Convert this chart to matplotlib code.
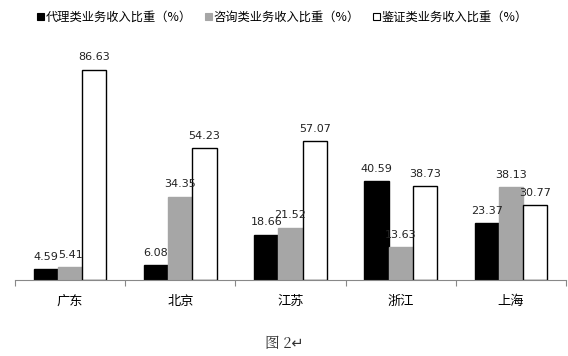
import numpy as np
import matplotlib
matplotlib.use('Agg')
import matplotlib.pyplot as plt
from matplotlib.patches import Patch

plt.rcParams['font.family'] = ['Noto Sans CJK SC', 'DejaVu Sans']

# data
regions = ['广东', '北京', '江苏', '浙江', '上海']
agency = [4.59, 6.08, 18.66, 40.59, 23.37]
consult = [5.41, 34.35, 21.52, 13.63, 38.13]
appraisal = [86.63, 54.23, 57.07, 38.73, 30.77]
series_names = ['代理类业务收入比重（%）', '咨询类业务收入比重（%）', '鉴证类业务收入比重（%）']

fig = plt.figure(figsize=(5.68, 3.56), dpi=100)
ax = fig.add_axes([15 / 568, 76 / 356, 551 / 568, 250 / 356])

x = np.arange(len(regions))
w = 0.22
styles = [dict(color='black', edgecolor='black'),
          dict(color='#a6a6a6', edgecolor='#a6a6a6'),
          dict(color='white', edgecolor='black')]
for i, (vals, st) in enumerate(zip([agency, consult, appraisal], styles)):
    pos = x + (i - 1) * w
    ax.bar(pos, vals, width=w, linewidth=1.0, **st)
    for p, v in zip(pos, vals):
        ax.text(p, v + 3, f'{v:.2f}', ha='center', va='bottom', fontsize=8,
                color='#222222', family='DejaVu Sans')

ax.set_xlim(-0.5, len(regions) - 0.5)
ax.set_ylim(0, 103)
ax.set_yticks([])
for s in ['top', 'right', 'left']:
    ax.spines[s].set_visible(False)
ax.spines['bottom'].set_color('#888888')
ax.set_xticks(np.arange(len(regions) + 1) - 0.5)
ax.set_xticklabels([])
ax.tick_params(axis='x', length=4, color='#888888', direction='out')
for xi, name in zip(x, regions):
    ax.text(xi, -6, name, ha='center', va='top', fontsize=9.5)

handles = [Patch(facecolor=st['color'], edgecolor=st['edgecolor'], linewidth=0.8)
           for st in styles]
fig.legend(handles, series_names, loc='upper left', bbox_to_anchor=(26 / 568, 1.0),
           ncol=3, frameon=False, fontsize=8.8, handlelength=0.55, handleheight=0.55,
           handletextpad=0.15, columnspacing=1.1)

fig.text(0.5, 12 / 356, '图 2↵', ha='center', va='center', fontsize=10.5,
         family=['Noto Serif CJK SC', 'Noto Sans CJK SC', 'DejaVu Sans'], color='#333333')

fig.savefig('out.png', dpi=100)
